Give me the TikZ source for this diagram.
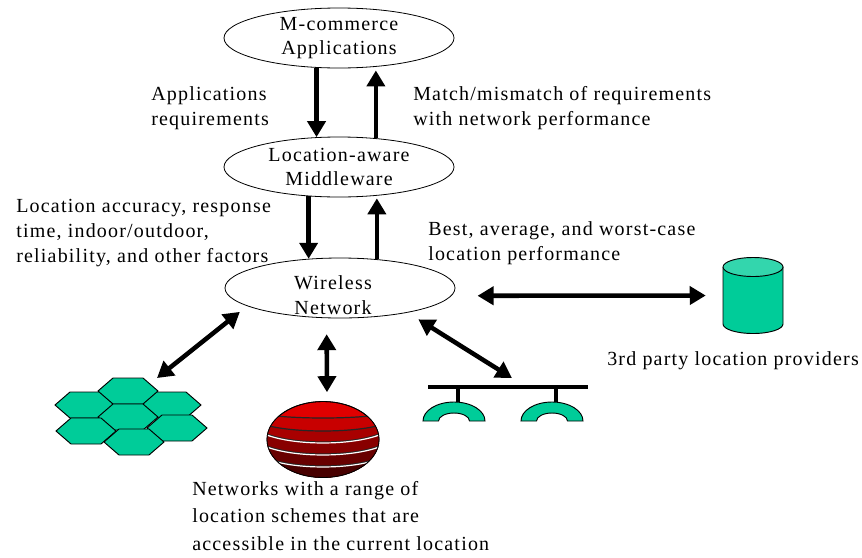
\documentclass[tikz,border=0pt]{standalone}
\usepackage{fontspec}
\setmainfont[LetterSpace=6]{Liberation Serif}
\usetikzlibrary{arrows.meta}
\usetikzlibrary{shapes.geometric}

\definecolor{cellGreen}{HTML}{00CC99}
\definecolor{capGreen}{HTML}{33D6AD}

\begin{document}
\begin{tikzpicture}[%
    x=0.75pt,
    y=-0.75pt,
    layer/.style={%
        draw,
        ellipse,
        inner sep=-12pt,
        line width=0.6pt,
        minimum width=172.5pt,
        minimum height=45pt,
        align=center,
        font=\fontsize{15}{18.4}\selectfont
    },
    remark/.style={%
        anchor=west,
        inner sep=0pt,
        align=left,
        font=\fontsize{15}{18.4}\selectfont
    },
    flow/.style={%
        line width=3.4pt
    },
    cell/.style={%
        draw,
        fill=cellGreen,
        line width=0.7pt
    },
    band/.style={%
        line width=0.9pt
    },
    hexcell/.pic={%
        \draw[cell] (-30,0) -- (-15,-13) -- (15,-13) -- (30,0) -- (15,13) -- (-15,13) -- cycle;
    },
    hubarc/.pic={%
        \coordinate (-top) at (4,-19);
        \draw[cell] (-31,0) arc[start angle=180,end angle=360,x radius=31,y radius=19]
            -- (15.5,0) arc[start angle=0,end angle=-180,x radius=15.5,y radius=8] -- cycle;
    },
    >={Triangle[length=12pt,width=13.5pt]}
]
\useasboundingbox (0,0) rectangle (862,557);

% Layers
    \node[layer] (commerce) at (339,38) {M-commerce\\Applications};
    \node[layer] (middleware) at (339,167) {Location-aware\\Middleware};
    \node[layer] (wireless) at (340,288) {};
    \node[remark, anchor=center, align=center] (wirelessText) at (333,295) {Wireless\\Network};

% Remarks
    \node[remark] (appReq) at (151,108) {Applications\\requirements};
    \node[remark] (matchReq) at (413,108) {Match/mismatch of requirements\\with network performance};
    \node[remark] (accuracy) at (16,233) {Location accuracy, response\\time, indoor/outdoor,\\reliability, and other factors};
    \node[remark] (bestCase) at (428,243) {Best, average, and worst-case\\location performance};
    \node[remark] (thirdParty) at (607,361) {3rd party location providers};
    \node[remark, font=\fontsize{15}{20.4}\selectfont] (schemes) at (192,516) {Networks with a range of\\location schemes that are\\accessible in the current location};

% Location providers
    \node[inner sep=0pt, minimum width=45pt, minimum height=56.25pt] (providers) at (753,295.5) {};
    \draw[cell] (723,267) -- (723,324) arc[start angle=180,end angle=0,x radius=30,y radius=9.5] -- (783,267);
    \draw[cell, fill=capGreen] (753,267) ellipse[x radius=30,y radius=9.5];

% Cellular network
    \pic at (85,405) {hexcell};
    \pic at (171,405) {hexcell};
    \pic at (128,391) {hexcell};
    \pic at (128,417) {hexcell};
    \pic at (86,431) {hexcell};
    \pic at (177,428) {hexcell};
    \pic at (134,442) {hexcell};
    \coordinate (cellsTip) at (157,378);

% Sphere network
    \node[%
        draw,
        ellipse,
        inner sep=0pt,
        line width=0.6pt,
        minimum width=84pt,
        minimum height=57pt,
        fill={rgb,255:red,224;green,0;blue,0}
    ] (sphere) at (323,439.5) {};
    \begin{scope}
        \clip (323,439.5) ellipse[x radius=56,y radius=38];
        \foreach \ya/\ym/\tone in {414/418/200, 424/431/168, 433/443/136, 445/455/104, 457/467/72} {
            \fill[fill={rgb,255:red,\tone;green,0;blue,0}] (262,\ya) .. controls (290,\ya+\ym*1.33-\ya*1.33) and (356,\ya+\ym*1.33-\ya*1.33) .. (384,\ya) -- (384,480) -- (262,480) -- cycle;
        }
        \foreach \ya/\ym in {414/418, 424/431} {
            \draw[band, black!85] (262,\ya) .. controls (290,\ya+\ym*1.33-\ya*1.33) and (356,\ya+\ym*1.33-\ya*1.33) .. (384,\ya);
        }
        \foreach \ya/\ym in {433/443, 445/455, 457/467} {
            \draw[band, black!85] (262,\ya-1) .. controls (290,\ya+\ym*1.33-\ya*1.33-1) and (356,\ya+\ym*1.33-\ya*1.33-1) .. (384,\ya-1);
            \draw[band, white] (262,\ya) .. controls (290,\ya+\ym*1.33-\ya*1.33) and (356,\ya+\ym*1.33-\ya*1.33) .. (384,\ya);
        }
    \end{scope}
    \draw[line width=0.6pt] (sphere.center) ellipse[x radius=56,y radius=38];

% Bus network
    \node[fill, inner sep=0pt, minimum width=120pt, minimum height=3pt] (bus) at (508,387) {};
    \pic (leftArc) at (454,421) {hubarc};
    \pic (rightArc) at (552,421) {hubarc};
    \draw[flow, line width=3pt] (bus.south -| leftArc-top) -- (leftArc-top);
    \draw[flow, line width=3pt] (bus.south -| rightArc-top) -- (rightArc-top);
    \coordinate (busTip) at (512,378);

% Arrows
\draw[->, flow] (commerce.233.2) -- (commerce.233.2 |- middleware.126.8);
\draw[->, flow, shorten >=2.8pt] (middleware.38) -- (middleware.38 |- commerce.323.3);

\draw[->, flow] (middleware.224) -- (middleware.224 |- wireless.137);
\draw[->, flow, shorten >=2pt] (wireless.38) -- (wireless.38 |- middleware.323.3);

\draw[<->, flow, shorten <=7pt] (wireless.191.5) -- (cellsTip);
\draw[<->, flow, shorten <=12pt, shorten >=6.75pt] (wireless.246.4) -- (sphere.84);
\draw[<->, flow, shorten <=9.5pt] (wireless.340.5) -- (busTip);
\draw[<->, flow, shorten <=19.5pt, shorten >=12.75pt] (wireless.356) -- (providers.west);

\end{tikzpicture}
\end{document}
